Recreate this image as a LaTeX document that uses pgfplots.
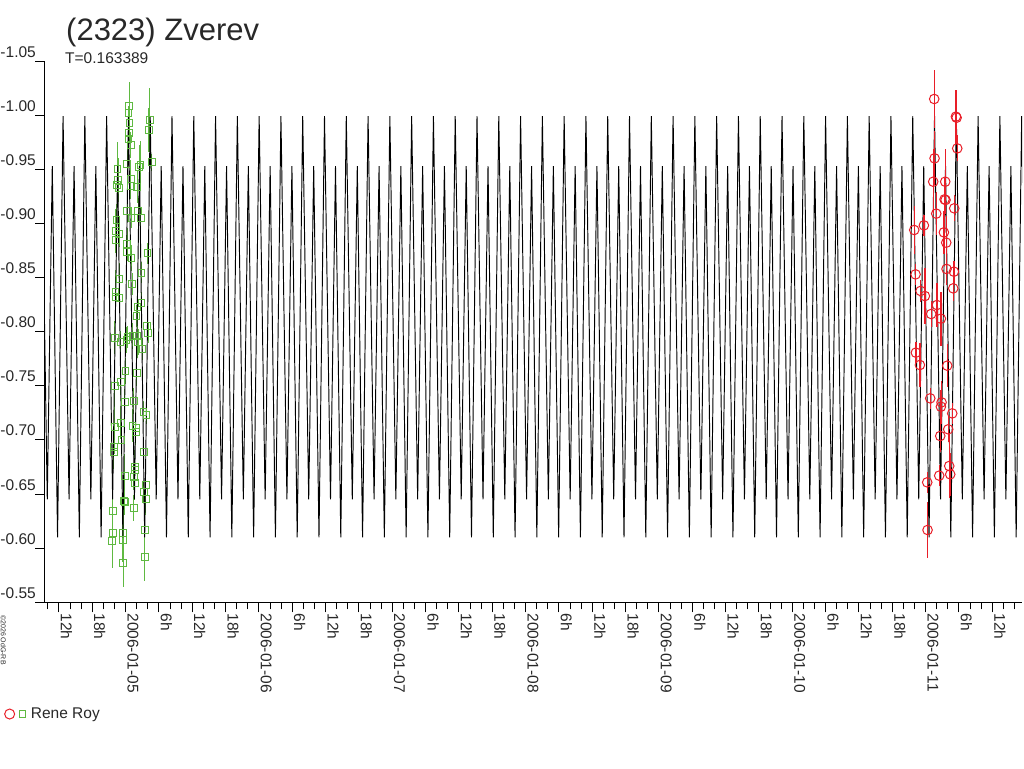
\documentclass[border=0pt]{standalone}
\usepackage{fontspec}
\setmainfont{Liberation Sans}
\usepackage{pgfplots}
\pgfplotsset{compat=1.18}
\usepackage{pgfplotstable}
\definecolor{mygreen}{RGB}{95,185,65}
\definecolor{myred}{RGB}{232,30,40}
\definecolor{txt}{RGB}{40,40,40}

\pgfplotstableread{
x y
-15.171 -0.999
-14.091 -0.645
-13.191 -0.953
-12.241 -0.610
-11.249 -0.999
-10.169 -0.645
-9.269 -0.953
-8.319 -0.610
-7.328 -0.999
-6.248 -0.645
-5.348 -0.953
-4.398 -0.610
-3.407 -0.999
-2.327 -0.645
-1.427 -0.953
-0.477 -0.610
0.515 -0.999
1.595 -0.645
2.495 -0.953
3.445 -0.610
4.436 -0.999
5.516 -0.645
6.416 -0.953
7.366 -0.610
8.357 -0.999
9.437 -0.645
10.337 -0.953
11.287 -0.610
12.279 -0.999
13.359 -0.645
14.259 -0.953
15.209 -0.610
16.200 -0.999
17.280 -0.645
18.180 -0.953
19.130 -0.610
20.121 -0.999
21.201 -0.645
22.101 -0.953
23.051 -0.610
24.043 -0.999
25.123 -0.645
26.023 -0.953
26.973 -0.610
27.964 -0.999
29.044 -0.645
29.944 -0.953
30.894 -0.610
31.885 -0.999
32.965 -0.645
33.865 -0.953
34.815 -0.610
35.807 -0.999
36.887 -0.645
37.787 -0.953
38.737 -0.610
39.728 -0.999
40.808 -0.645
41.708 -0.953
42.658 -0.610
43.649 -0.999
44.729 -0.645
45.629 -0.953
46.579 -0.610
47.571 -0.999
48.651 -0.645
49.551 -0.953
50.501 -0.610
51.492 -0.999
52.572 -0.645
53.472 -0.953
54.422 -0.610
55.413 -0.999
56.493 -0.645
57.393 -0.953
58.343 -0.610
59.335 -0.999
60.415 -0.645
61.315 -0.953
62.265 -0.610
63.256 -0.999
64.336 -0.645
65.236 -0.953
66.186 -0.610
67.177 -0.999
68.257 -0.645
69.157 -0.953
70.107 -0.610
71.099 -0.999
72.179 -0.645
73.079 -0.953
74.029 -0.610
75.020 -0.999
76.100 -0.645
77.000 -0.953
77.950 -0.610
78.941 -0.999
80.021 -0.645
80.921 -0.953
81.871 -0.610
82.863 -0.999
83.943 -0.645
84.843 -0.953
85.793 -0.610
86.784 -0.999
87.864 -0.645
88.764 -0.953
89.714 -0.610
90.705 -0.999
91.785 -0.645
92.685 -0.953
93.635 -0.610
94.627 -0.999
95.707 -0.645
96.607 -0.953
97.557 -0.610
98.548 -0.999
99.628 -0.645
100.528 -0.953
101.478 -0.610
102.469 -0.999
103.549 -0.645
104.449 -0.953
105.399 -0.610
106.391 -0.999
107.471 -0.645
108.371 -0.953
109.321 -0.610
110.312 -0.999
111.392 -0.645
112.292 -0.953
113.242 -0.610
114.233 -0.999
115.313 -0.645
116.213 -0.953
117.163 -0.610
118.155 -0.999
119.235 -0.645
120.135 -0.953
121.085 -0.610
122.076 -0.999
123.156 -0.645
124.056 -0.953
125.006 -0.610
125.997 -0.999
127.077 -0.645
127.977 -0.953
128.927 -0.610
129.919 -0.999
130.999 -0.645
131.899 -0.953
132.849 -0.610
133.840 -0.999
134.920 -0.645
135.820 -0.953
136.770 -0.610
137.762 -0.999
138.842 -0.645
139.742 -0.953
140.692 -0.610
141.683 -0.999
142.763 -0.645
143.663 -0.953
144.613 -0.610
145.604 -0.999
146.684 -0.645
147.584 -0.953
148.534 -0.610
149.526 -0.999
150.606 -0.645
151.506 -0.953
152.456 -0.610
153.447 -0.999
154.527 -0.645
155.427 -0.953
156.377 -0.610
157.368 -0.999
158.448 -0.645
159.348 -0.953
160.298 -0.610
161.290 -0.999
162.370 -0.645
}\curvetable

\pgfplotstableread{
x y e
0.653 -1.0087 0.022
0.535 -1.0023 0.006
0.715 -0.9924 0.008
0.653 -0.9832 0.010
0.535 -0.9776 0.010
0.954 -0.9724 0.012
4.374 -0.9955 0.030
4.194 -0.9863 0.020
4.734 -0.9564 0.008
0.293 -0.9549 0.015
2.695 -0.9539 0.022
2.453 -0.9524 0.020
-1.445 -0.9502 0.025
-1.327 -0.9401 0.020
-1.507 -0.9355 0.015
-1.206 -0.9324 0.012
0.954 -0.9407 0.015
0.954 -0.9345 0.012
2.093 -0.9339 0.015
0.293 -0.9114 0.010
2.273 -0.9118 0.012
1.075 -0.9053 0.010
2.754 -0.9053 0.010
-1.625 -0.9031 0.015
-1.746 -0.8930 0.020
-1.147 -0.8902 0.012
-1.687 -0.8847 0.015
0.293 -0.8807 0.015
0.234 -0.8739 0.015
1.075 -0.8683 0.012
3.955 -0.8723 0.010
2.875 -0.8545 0.010
-1.085 -0.8486 0.015
1.193 -0.8443 0.010
-1.805 -0.8369 0.020
-1.805 -0.8323 0.015
-1.085 -0.8314 0.012
2.875 -0.8262 0.010
2.155 -0.8225 0.012
1.975 -0.8145 0.010
3.893 -0.8052 0.012
4.073 -0.7991 0.010
-1.926 -0.7944 0.015
-0.905 -0.7907 0.010
0.175 -0.7923 0.012
0.355 -0.7948 0.010
1.255 -0.7960 0.012
2.093 -0.7960 0.020
2.273 -0.7907 0.012
3.055 -0.7840 0.010
-0.005 -0.7640 0.012
2.034 -0.7621 0.012
-0.846 -0.7538 0.012
-1.926 -0.7501 0.015
-0.126 -0.7353 0.012
1.494 -0.7359 0.012
3.235 -0.7261 0.010
3.775 -0.7230 0.008
-0.846 -0.7159 0.015
-1.926 -0.7122 0.025
1.255 -0.7132 0.015
1.854 -0.7107 0.012
1.854 -0.7070 0.012
-0.725 -0.6999 0.015
-2.106 -0.6932 0.020
-2.106 -0.6891 0.015
3.294 -0.6885 0.012
1.674 -0.6753 0.015
1.674 -0.6722 0.012
-0.126 -0.6670 0.020
1.494 -0.6654 0.012
1.674 -0.6599 0.015
3.654 -0.6584 0.015
3.294 -0.6522 0.010
3.654 -0.6454 0.015
-0.306 -0.6439 0.015
-0.126 -0.6430 0.012
-2.286 -0.6346 0.020
1.494 -0.6374 0.012
-2.286 -0.6143 0.020
-2.407 -0.6069 0.025
-0.427 -0.6137 0.020
-0.486 -0.6075 0.020
3.474 -0.6168 0.020
3.474 -0.5921 0.022
-0.427 -0.5860 0.022
}\greentable

\pgfplotstableread{
x y e
145.55 -1.0149 0.027
149.45 -0.9986 0.025
149.58 -0.9976 0.010
149.69 -0.9693 0.012
145.61 -0.9601 0.025
145.37 -0.9385 0.030
147.53 -0.9385 0.030
147.41 -0.9222 0.020
147.59 -0.9216 0.010
149.15 -0.9139 0.012
145.91 -0.9090 0.020
141.95 -0.8939 0.022
143.69 -0.8982 0.010
147.29 -0.8917 0.020
147.71 -0.8822 0.025
142.19 -0.8529 0.010
147.77 -0.8579 0.015
149.09 -0.8554 0.010
148.97 -0.8400 0.012
143.09 -0.8376 0.010
143.87 -0.8329 0.026
146.03 -0.8246 0.020
145.01 -0.8163 0.012
146.75 -0.8120 0.025
142.25 -0.7806 0.010
142.97 -0.7692 0.020
147.89 -0.7686 0.020
144.83 -0.7384 0.010
146.87 -0.7347 0.020
146.75 -0.7307 0.015
148.79 -0.7245 0.010
148.07 -0.7098 0.012
146.63 -0.7036 0.015
148.25 -0.6759 0.030
146.45 -0.6670 0.010
148.43 -0.6682 0.020
144.29 -0.6608 0.010
144.35 -0.6168 0.026
}\redtable

\begin{document}
\begin{tikzpicture}[x=1pt,y=1pt]
\path[use as bounding box] (0,0) rectangle (1024,768);
\begin{axis}[
  at={(45pt,165.7pt)}, anchor=south west,
  scale only axis, width=977pt, height=541.3pt,
  xmin=-14.5, xmax=161.35, ymin=-1.05, ymax=-0.55,
  y dir=reverse,
  axis lines=left,
  axis line style={-, line width=1pt, black},
  x axis line style={shorten <=-9pt},
  tick align=outside,
  major tick length=10pt, minor tick length=7pt,
  every tick/.style={black, line width=1pt},
  xtick={-12,-6,...,156},
  minor xtick={-14,-12,...,160},
  xticklabels={12h,18h,2006-01-05,6h,12h,18h,2006-01-06,6h,12h,18h,2006-01-07,6h,12h,18h,2006-01-08,6h,12h,18h,2006-01-09,6h,12h,18h,2006-01-10,6h,12h,18h,2006-01-11,6h,12h},
  ytick={-1.05,-1.00,-0.95,-0.90,-0.85,-0.80,-0.75,-0.70,-0.65,-0.60,-0.55},
  yticklabels={-1.05,-1.00,-0.95,-0.90,-0.85,-0.80,-0.75,-0.70,-0.65,-0.60,-0.55},
  ticklabel style={font=\fontsize{15.5}{15.5}\selectfont, text=txt},
  xticklabel style={xshift=2pt, yshift=-1pt, rotate=-90, anchor=base west, inner sep=0pt},
  yticklabel style={anchor=base east, inner sep=0pt, yshift=4pt, xshift=1pt},
  legend style={at={(axis description cs:-0.042,-0.2064)}, anchor=west, draw=none, fill=none,
    inner sep=0pt, font=\fontsize{15.5}{15.5}\selectfont, text=txt},
  legend cell align=left,
]
\addplot[only marks, mark=square, mark size=3.4pt, mygreen, mark options={line width=1pt},
  forget plot,
  error bars/.cd, y dir=both, y explicit, error mark=none,
  error bar style={line width=1.2pt, mygreen}]
  table[x=x, y=y, y error=e] {\greentable};
\addplot[black, line width=0.95pt, no marks, forget plot] table[x=x, y=y] {\curvetable};
\addplot[only marks, mark=o, mark size=4.8pt, myred, mark options={line width=1pt},
  forget plot,
  error bars/.cd, y dir=both, y explicit, error mark=none,
  error bar style={line width=1.3pt, myred}]
  table[x=x, y=y, y error=e] {\redtable};
\addlegendimage{legend image code/.code={
  \draw[myred, line width=1pt] (0pt,0pt) circle (5pt);
  \draw[mygreen, line width=1pt] (9.5pt,-3.3pt) rectangle (16.1pt,3.3pt);
  \path (19pt,0pt);}}
\addlegendentry{Rene Roy}
\end{axis}
\node[anchor=base west, inner sep=0pt, font=\fontsize{31}{31}\selectfont, text=txt] at (66,727) {(2323) Zverev};
\node[anchor=base west, inner sep=0pt, font=\fontsize{15.5}{15.5}\selectfont, text=txt] at (65,704) {T=0.163389};
\node[rotate=-90, anchor=base west, inner sep=0pt, font=\fontsize{7}{7}\selectfont, text=txt] at (1,153) {©2026 OdG-RB};
\end{tikzpicture}
\end{document}
